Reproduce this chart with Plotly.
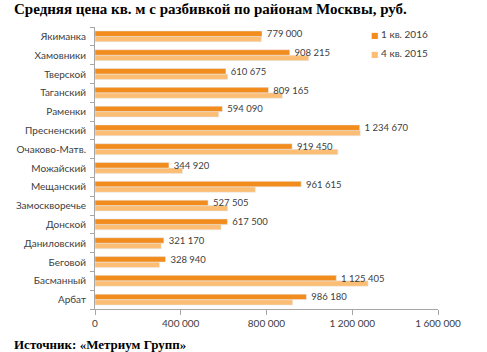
import plotly.graph_objects as go

categories = ["Арбат", "Басманный", "Беговой", "Даниловский", "Донской", "Замоскворечье",
              "Мещанский", "Можайский", "Очаково-Матв.", "Пресненский", "Раменки",
              "Таганский", "Тверской", "Хамовники", "Якиманка"]
q1_2016 = [986180, 1125405, 328940, 321170, 617500, 527505, 961615, 344920, 919450,
           1234670, 594090, 809165, 610675, 908215, 779000]
q4_2015 = [922000, 1274000, 301000, 309000, 588000, 619000, 748000, 408000, 1133000,
           1238000, 577000, 874000, 619000, 997000, 776000]
tick_values = [0, 400000, 800000, 1200000, 1600000]

dark = "#F28C1C"
light = "#FBBE74"
font_family = "Lato, 'Liberation Sans', sans-serif"
text_color = "#404040"

fig = go.Figure()
fig.add_trace(go.Bar(y=categories, x=q4_2015, orientation="h", name="4 кв. 2015",
                     marker_color=light, showlegend=False))
fig.add_trace(go.Bar(y=categories, x=q1_2016, orientation="h", name="1 кв. 2016",
                     marker_color=dark, showlegend=False,
                     texttemplate="\u00a0\u00a0%{x:,}", textposition="outside",
                     constraintext="none", cliponaxis=False,
                     textfont=dict(size=9.5, color=text_color, family=font_family)))
# legend entries with small square glyphs
for nm, col in [("1 кв. 2016", dark), ("4 кв. 2015", light)]:
    fig.add_trace(go.Scatter(x=[None], y=[None], mode="markers",
                             name=(f"<span style='color:{col};font-family:DejaVu Sans;"
                                   f"font-size:8px'>■</span>\u00a0{nm}"),
                             marker=dict(symbol="square", size=6, color="rgba(0,0,0,0)")))

fig.update_layout(
    width=487, height=352,
    margin=dict(l=95, r=49, t=27, b=43),
    paper_bgcolor="white", plot_bgcolor="white",
    barmode="group", bargap=0.42, bargroupgap=0,
    separators=", ",
    showlegend=True,
    legend=dict(x=0.688, y=1.025, xanchor="left", yanchor="top",
                font=dict(size=10, color=text_color, family=font_family),
                itemwidth=30, tracegroupgap=0, bgcolor="rgba(0,0,0,0)"),
    xaxis=dict(range=[0, 1600000], tickvals=tick_values, tickformat=",",
               showgrid=False, zeroline=False, showline=True, linecolor="#A6A6A6",
               ticks="outside", ticklen=5, tickcolor="#A6A6A6",
               tickfont=dict(size=10, color=text_color, family=font_family)),
    yaxis=dict(showgrid=False, showline=True, linecolor="#A6A6A6",
               ticks="outside", ticklen=4, tickcolor="#A6A6A6", tickson="boundaries",
               ticklabelstandoff=6,
               tickfont=dict(size=10, color=text_color, family=font_family)),
    annotations=[
        dict(text="<b>Средняя цена кв. м с разбивкой по районам Москвы, руб.</b>",
             xref="paper", yref="paper", x=-0.242, y=1.098, xanchor="left", yanchor="top",
             showarrow=False, font=dict(size=15, color="black", family="'Liberation Serif', serif")),
        dict(text="<b>Источник: «Метриум Групп»</b>",
             xref="paper", yref="paper", x=-0.242, y=-0.093, xanchor="left", yanchor="top",
             showarrow=False, font=dict(size=13, color="black", family="'Liberation Serif', serif")),
    ],
)

fig.write_html("out.html")
